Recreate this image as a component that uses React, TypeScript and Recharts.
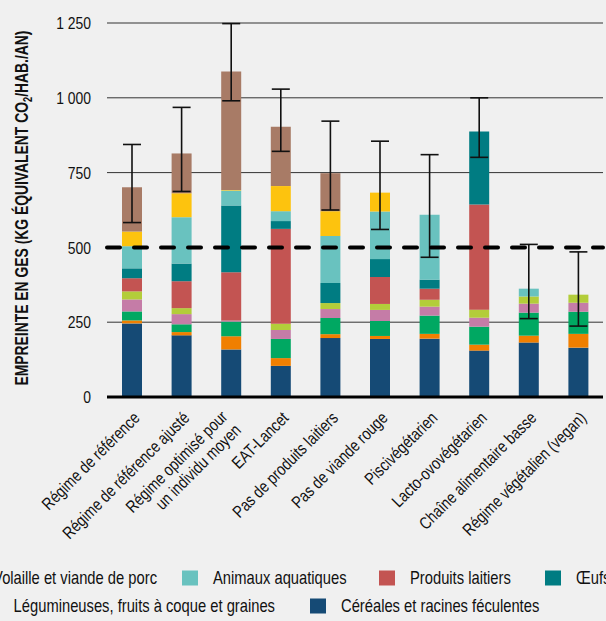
import React from 'react'
import { BarChart, Bar, XAxis, YAxis, CartesianGrid, ReferenceLine, ErrorBar } from 'recharts'

// no condensed font is installed: Liberation Sans squeezed horizontally
const FONT = "'Liberation Sans', Arial, sans-serif"
const SQUEEZE = 0.82

const categories = [
  'Régime de référence',
  'Régime de référence ajusté',
  'Régime optimisé pour\nun individu moyen',
  'EAT-Lancet',
  'Pas de produits laitiers',
  'Pas de viande rouge',
  'Piscivégétarien',
  'Lacto-ovovégétarien',
  'Chaîne alimentaire basse',
  'Régime végétalien (vegan)',
]

// segments, bottom to top
const cereales = [246, 206, 159, 104, 197, 194, 195, 155, 182, 165]
const legumineuses = [10, 11, 44, 26, 13, 10, 16, 20, 23, 46]
const fruitsLegumes = [30, 26, 49, 64, 54, 50, 61, 60, 77, 74]
const sucres = [40, 34, 4, 30, 30, 37, 30, 30, 30, 30]
const huiles = [27, 20, 0, 21, 20, 20, 23, 27, 24, 27]
const laitiers = [44, 90, 161, 317, 0, 90, 37, 351, 0, 0]
const oeufs = [33, 59, 223, 26, 67, 60, 30, 244, 0, 0]
const aquatiques = [74, 155, 50, 33, 157, 159, 217, 0, 26, 0]
const volaille = [49, 80, 2, 84, 83, 63, 0, 0, 0, 0]
const viandeRouge = [148, 133, 396, 198, 127, 0, 0, 0, 0, 0]

// uncertainty range (absolute values)
const errLow = [583, 687, 990, 821, 625, 560, 467, 801, 262, 237]
const errHigh = [844, 968, 1248, 1029, 922, 855, 810, 1000, 510, 485]

const yTicks = [0, 250, 500, 750, 1000, 1250]

const series = [
  { key: 'cereales', name: 'Céréales et racines féculentes', color: '#154a75', values: cereales },
  { key: 'legumineuses', name: 'Légumineuses, fruits à coque et graines', color: '#f07f00', values: legumineuses },
  { key: 'fruitsLegumes', name: 'Fruits et légumes', color: '#00a862', values: fruitsLegumes },
  { key: 'sucres', name: 'Sucres', color: '#c57ca7', values: sucres },
  { key: 'huiles', name: 'Huiles végétales', color: '#b3cd3a', values: huiles },
  { key: 'laitiers', name: 'Produits laitiers', color: '#c35452', values: laitiers },
  { key: 'oeufs', name: 'Œufs', color: '#007c82', values: oeufs },
  { key: 'aquatiques', name: 'Animaux aquatiques', color: '#69c2bf', values: aquatiques },
  { key: 'volaille', name: 'Volaille et viande de porc', color: '#fdc30e', values: volaille },
  { key: 'viandeRouge', name: 'Viande rouge', color: '#a87b66', values: viandeRouge },
]

// error bar goes on the top non-empty segment of each column
const data = categories.map((name, i) => {
  const row: Record<string, any> = { name }
  let total = 0
  let topKey = series[0].key
  series.forEach((s) => {
    row[s.key] = s.values[i]
    total += s.values[i]
    if (s.values[i] > 0) topKey = s.key
  })
  row[`err_${topKey}`] = [total - errLow[i], errHigh[i] - total]
  return row
})

const fmt = (v: number) => (v >= 1000 ? `${Math.floor(v / 1000)} ${String(v % 1000).padStart(3, '0')}` : String(v))

const XTick = (props: any) => {
  const { x, y, payload } = props
  const lines = String(payload.value).split('\n')
  return (
    <g transform={`translate(${x + 9},${y + 14})`}>
      <text transform={`rotate(-45) scale(${SQUEEZE},1)`} fontFamily={FONT} fontSize={17} fill="#111" textAnchor="end">
        {lines.length === 1 ? (
          <tspan x={0} y={0}>{lines[0]}</tspan>
        ) : (
          <>
            <tspan x={-9} y={-9}>{lines[0]}</tspan>
            <tspan x={-9} y={10}>{lines[1]}</tspan>
          </>
        )}
      </text>
    </g>
  )
}

const YTick = (props: any) => {
  const { x, y, payload } = props
  return (
    <text
      transform={`translate(${x},${y}) scale(${SQUEEZE},1)`}
      dy="0.36em"
      textAnchor="end"
      fontFamily={FONT}
      fontSize={17}
      fill="#111"
    >
      {fmt(payload.value)}
    </text>
  )
}

const byKey = (k: string) => series.find((s) => s.key === k)!

// swatch x for left items, text end x for items cut by the left edge
const legendRow1 = [
  { key: 'volaille', end: 157 },
  { key: 'aquatiques', x: 182 },
  { key: 'laitiers', x: 379 },
  { key: 'oeufs', x: 545 },
]
const legendRow2 = [
  { key: 'legumineuses', end: 275 },
  { key: 'cereales', x: 310 },
]

const LegendRow = ({ items, cy }: { items: any[]; cy: number }) => (
  <>
    {items.map((it) => {
      const s = byKey(it.key)
      if (it.end !== undefined) {
        return (
          <text
            key={it.key}
            transform={`translate(${it.end},${cy}) scale(${SQUEEZE},1)`}
            dy="0.36em"
            textAnchor="end"
            fontFamily={FONT}
            fontSize={18}
            fill="#111"
          >
            {s.name}
          </text>
        )
      }
      return (
        <g key={it.key}>
          <rect x={it.x} y={cy - 7.5} width={16} height={15} fill={s.color} />
          <text
            transform={`translate(${it.x + 31},${cy}) scale(${SQUEEZE},1)`}
            dy="0.36em"
            fontFamily={FONT}
            fontSize={18}
            fill="#111"
          >
            {s.name}
          </text>
        </g>
      )
    })}
  </>
)

export default function App() {
  return (
    <div style={{ position: 'fixed', left: 0, top: 0, width: 606, height: 621, background: '#f0f0f0', overflow: 'hidden' }}>
      <BarChart width={606} height={560} data={data} margin={{ top: 23, right: 3, left: 0, bottom: 0 }} barSize={20}>
        <CartesianGrid vertical={false} horizontalValues={[250, 750, 1000, 1250]} stroke="#333" strokeWidth={1} />
        <XAxis dataKey="name" interval={0} height={163} axisLine={false} tickLine={false} tick={<XTick />} />
        <YAxis
          domain={[0, 1250]}
          ticks={yTicks}
          width={107}
          axisLine={false}
          tickLine={false}
          tickMargin={10}
          tick={<YTick />}
        />
        {series.map((s) => (
          <Bar key={s.key} dataKey={s.key} stackId="a" fill={s.color} isAnimationActive={false}>
            <ErrorBar
              dataKey={`err_${s.key}`}
              direction="y"
              width={9}
              stroke="#111"
              strokeWidth={1.6}
              isAnimationActive={false}
            />
          </Bar>
        ))}
        <ReferenceLine y={500} stroke="#000" strokeWidth={4} strokeDasharray="13 14" strokeLinecap="round" />
        <ReferenceLine y={0} stroke="#000" strokeWidth={3} />
      </BarChart>

      <svg width={606} height={621} style={{ position: 'absolute', left: 0, top: 0, pointerEvents: 'none' }}>
        <text
          transform="translate(28,208) rotate(-90)"
          textAnchor="middle"
          fontFamily={FONT}
          fontWeight="bold"
          fontSize={18}
          fill="#111"
          textLength={355}
          lengthAdjust="spacingAndGlyphs"
        >
          EMPREINTE EN GES (KG ÉQUIVALENT CO<tspan fontSize={12} dy={4}>2</tspan>
          <tspan dy={-4}>/HAB./AN)</tspan>
        </text>
        <LegendRow items={legendRow1} cy={578} />
        <LegendRow items={legendRow2} cy={606} />
      </svg>
    </div>
  )
}
